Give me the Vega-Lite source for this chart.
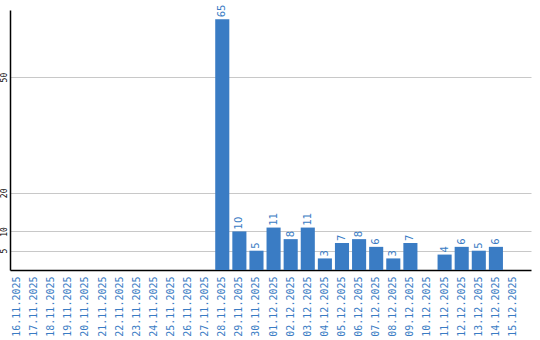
{
  "$schema": "https://vega.github.io/schema/vega-lite/v6.json",
  "width": 521,
  "height": 260,
  "autosize": {"type": "none"},
  "padding": {"left": 10, "top": 10, "right": 9, "bottom": 70},
  "background": "white",
  "config": {"view": {"stroke": null}},
  "data": {"values": [
    {"date": "16.11.2025", "count": null},
    {"date": "17.11.2025", "count": null},
    {"date": "18.11.2025", "count": null},
    {"date": "19.11.2025", "count": null},
    {"date": "20.11.2025", "count": null},
    {"date": "21.11.2025", "count": null},
    {"date": "22.11.2025", "count": null},
    {"date": "23.11.2025", "count": null},
    {"date": "24.11.2025", "count": null},
    {"date": "25.11.2025", "count": null},
    {"date": "26.11.2025", "count": null},
    {"date": "27.11.2025", "count": null},
    {"date": "28.11.2025", "count": 65},
    {"date": "29.11.2025", "count": 10},
    {"date": "30.11.2025", "count": 5},
    {"date": "01.12.2025", "count": 11},
    {"date": "02.12.2025", "count": 8},
    {"date": "03.12.2025", "count": 11},
    {"date": "04.12.2025", "count": 3},
    {"date": "05.12.2025", "count": 7},
    {"date": "06.12.2025", "count": 8},
    {"date": "07.12.2025", "count": 6},
    {"date": "08.12.2025", "count": 3},
    {"date": "09.12.2025", "count": 7},
    {"date": "10.12.2025", "count": null},
    {"date": "11.12.2025", "count": 4},
    {"date": "12.12.2025", "count": 6},
    {"date": "13.12.2025", "count": 5},
    {"date": "14.12.2025", "count": 6},
    {"date": "15.12.2025", "count": null}
  ]},
  "encoding": {
    "x": {
      "field": "date", "type": "nominal", "title": null,
      "scale": {
        "domain": ["16.11.2025","17.11.2025","18.11.2025","19.11.2025","20.11.2025","21.11.2025","22.11.2025","23.11.2025","24.11.2025","25.11.2025","26.11.2025","27.11.2025","28.11.2025","29.11.2025","30.11.2025","01.12.2025","02.12.2025","03.12.2025","04.12.2025","05.12.2025","06.12.2025","07.12.2025","08.12.2025","09.12.2025","10.12.2025","11.12.2025","12.12.2025","13.12.2025","14.12.2025","15.12.2025"],
        "paddingInner": 0.176, "paddingOuter": 0.32, "align": 0
      },
      "axis": {
        "labelAngle": -90, "labelAlign": "right", "labelBaseline": "middle",
        "labelFont": "DejaVu Sans Mono", "labelFontSize": 10, "labelColor": "#3a7cc4",
        "ticks": false, "labelPadding": 6, "domainColor": "#000000", "domainWidth": 1.5,
        "grid": false, "labelOverlap": false
      }
    },
    "y": {
      "field": "count", "type": "quantitative", "title": null,
      "scale": {"domain": [0, 67.4], "nice": false},
      "axis": {
        "values": [5, 10, 20, 50], "labelAngle": -90, "labelAlign": "center", "labelBaseline": "bottom",
        "labelFont": "DejaVu Sans Mono", "labelFontSize": 8, "labelColor": "#000000",
        "ticks": false, "labelPadding": 2, "domainColor": "#000000", "domainWidth": 1.5,
        "grid": true, "gridColor": "#c8c8c8", "gridWidth": 1
      }
    }
  },
  "layer": [
    {"mark": {"type": "bar", "color": "#3a7cc4"}},
    {
      "mark": {"type": "text", "angle": -90, "align": "left", "baseline": "middle", "dx": 2, "font": "DejaVu Sans", "fontSize": 10, "color": "#3a7cc4"},
      "encoding": {"text": {"field": "count", "type": "quantitative"}}
    }
  ]
}
